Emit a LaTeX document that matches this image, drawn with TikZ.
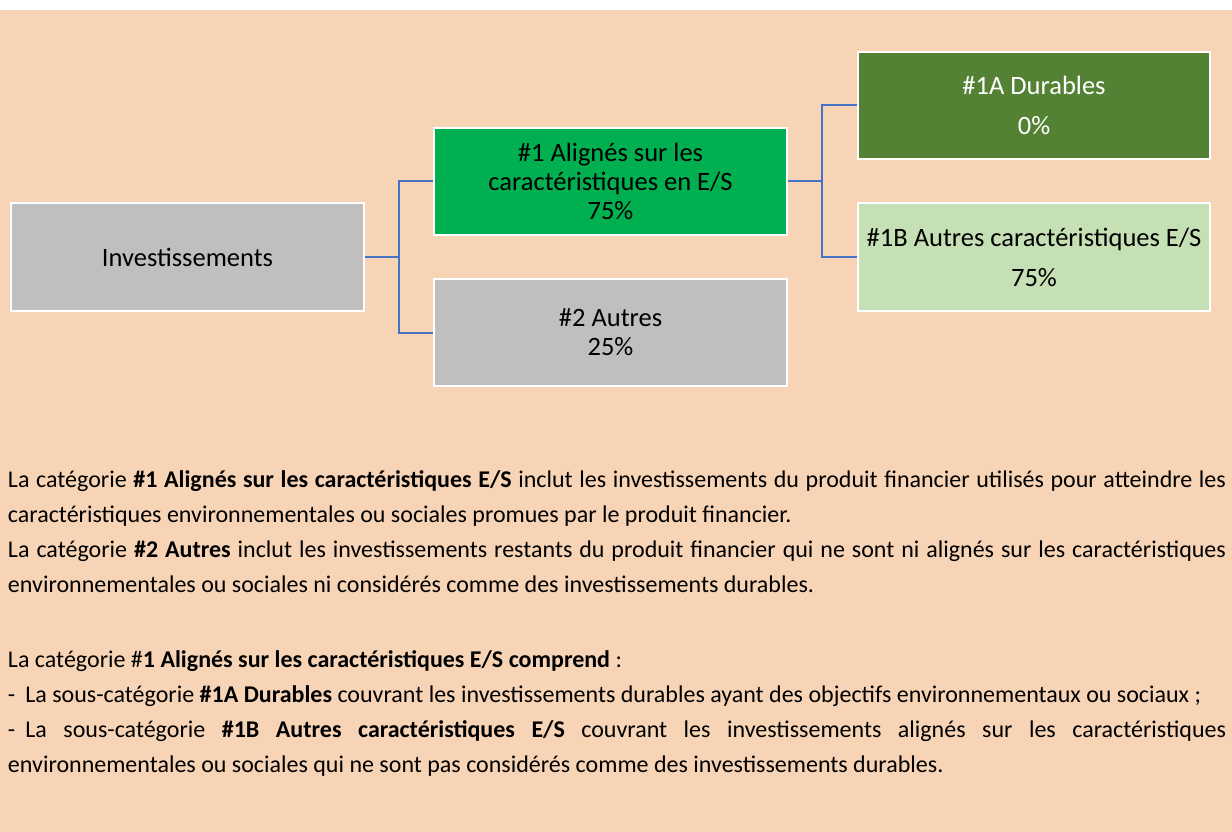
\documentclass[tikz,border=0pt]{standalone}
\usepackage{fontspec}
\setmainfont{Carlito}
\definecolor{peach}{RGB}{247,212,181}
\definecolor{boxgray}{RGB}{191,191,191}
\definecolor{greenA}{RGB}{0,176,80}
\definecolor{greenDark}{RGB}{84,130,53}
\definecolor{greenLight}{RGB}{197,224,180}
\definecolor{connblue}{RGB}{68,114,196}
\hbadness=10000
\hfuzz=50pt
\begin{document}
\begin{tikzpicture}[x=1pt,y=-1pt,
  box/.style={draw=white, line width=2pt, minimum width=353pt, minimum height=107pt,
    inner sep=0pt, align=center, text=black},
  diag/.style={font=\fontsize{26.5}{28.7}\selectfont},
  diagwide/.style={font=\fontsize{26.5}{40}\selectfont},
  conn/.style={draw=connblue, line width=2pt},
  para/.style={anchor=base west, inner sep=0pt, outer sep=0pt, font=\fontsize{24}{35}\selectfont, text=black}]
\useasboundingbox (0,0) rectangle (1232,832);
\fill[white] (0,0) rectangle (1232,832);
\fill[peach] (0,10) rectangle (1232,832);

% diagram boxes
\node[box, diag, fill=boxgray, minimum height=108pt] (inv) at (187.5,257) {Investissements};
\node[box, diag, fill=greenA] (a1) at (610.5,181.5) {\#1 Alignés sur les\\caractéristiques en E/S\\75\%};
\node[box, diag, fill=boxgray] (a2) at (610.5,332.5) {\#2 Autres\\25\%};
\node[box, diagwide, fill=greenDark, text=white, minimum width=352pt] (b1) at (1034,105.5) {\#1A Durables\\0\%};
\node[box, diagwide, fill=greenLight, minimum width=352pt, minimum height=108pt] (b2) at (1034,257) {\#1B Autres caractéristiques E/S\\75\%};

% connectors
\coordinate (j1) at (399,257);
\coordinate (j2) at (822,181.5);
\draw[conn] (inv.east) -- (j1);
\draw[conn] (j1) |- (a1.west);
\draw[conn] (j1) |- (a2.west);
\draw[conn] (a1.east) -- (j2);
\draw[conn] (j2) |- (b1.west);
\draw[conn] (j2) |- (b2.west);

% paragraphs
\node[para] (l1) at (8,487) {\hbox to 1218pt{La catégorie \textbf{\#1 Alignés sur les caractéristiques E/S} inclut les investissements du produit financier utilisés pour atteindre les}};
\node[para] (l2) at (8,522) {caractéristiques environnementales ou sociales promues par le produit financier.};
\node[para] (l3) at (8,557) {\hbox to 1218pt{La catégorie \textbf{\#2 Autres} inclut les investissements restants du produit financier qui ne sont ni alignés sur les caractéristiques}};
\node[para] (l4) at (8,592) {environnementales ou sociales ni considérés comme des investissements durables.};
\node[para] (l5) at (8,667) {La catégorie \#\textbf{1 Alignés sur les caractéristiques E/S comprend} :};
\node[para] (l6) at (8,702) {-\hspace{10pt}La sous-catégorie \textbf{\#1A Durables} couvrant les investissements durables ayant des objectifs environnementaux ou sociaux ;};
\node[para] (l7) at (8,737) {\hbox to 1218pt{-\hspace{10pt}La sous-catégorie \textbf{\#1B Autres caractéristiques E/S} couvrant les investissements alignés sur les caractéristiques}};
\node[para] (l8) at (8,772) {environnementales ou sociales qui ne sont pas considérés comme des investissements durables.};
\end{tikzpicture}
\end{document}
